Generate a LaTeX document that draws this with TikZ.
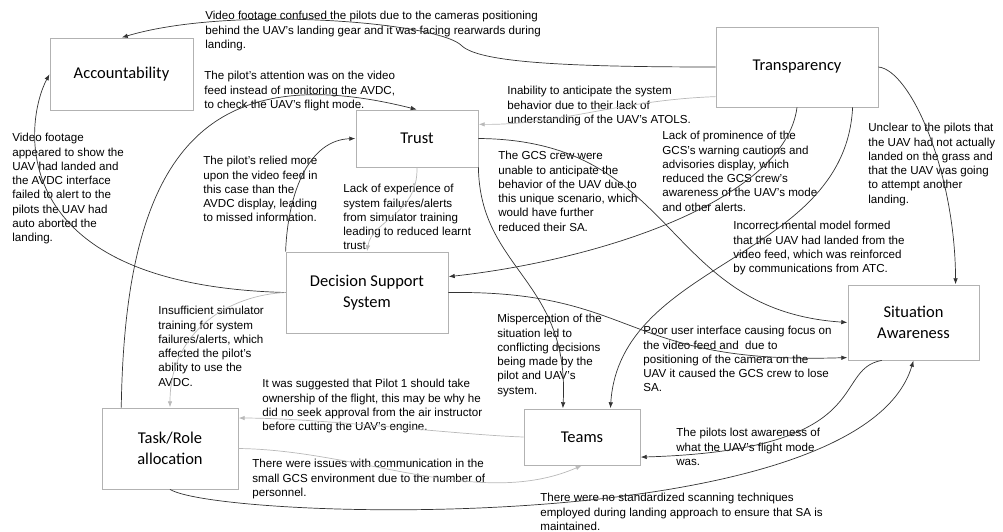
\documentclass[tikz,border=0pt]{standalone}
\usepackage{fontspec}
\setmainfont{Liberation Sans}
\newfontfamily\boxfont{Carlito}
\usetikzlibrary{arrows.meta,arrows}

\begin{document}
\begin{tikzpicture}[
            x = 1pt, y = -1pt, % pixel grid, y runs down
            > = {Latex[length=6pt,width=4.5pt]}, % arrow head style
            shorten > = 0.3pt, % don't poke into the box
            draw = black!80,
            line width = 0.7pt % line style
        ]

        \tikzstyle{factor}=[
            draw = gray!60,
            line width = 0.8pt,
            fill = white,
            inner sep = 0pt,
            align = center,
            font = \boxfont\fontsize{16.5}{20.5}\selectfont
        ]
        \tikzstyle{note}=[
            anchor = north west,
            align = left,
            inner sep = 0pt,
            font = \fontsize{11.6}{14.3}\selectfont
        ]
        \tikzstyle{weak}=[draw = gray!55]

        \useasboundingbox (0,0) rectangle (1003,532);

        % Factors
        \node[factor, minimum width=143pt, minimum height=72pt] (acc) [at={(121.5,74)}] {Accountability};
        \node[factor, minimum width=162pt, minimum height=80pt] (trans) [at={(797,67)}] {Transparency};
        \node[factor, minimum width=122pt, minimum height=57pt] (trust) [at={(417,138.5)}] {Trust};
        \node[factor, minimum width=162pt, minimum height=81pt] (dss) [at={(367,292.5)}] {Decision Support\\System};
        \node[factor, minimum width=131pt, minimum height=75pt] (sa) [at={(913.5,322.5)}] {Situation\\Awareness};
        \node[factor, minimum width=116pt, minimum height=56pt] (teams) [at={(582,437)}] {Teams};
        \node[factor, minimum width=136pt, minimum height=81pt] (task) [at={(170,448.5)}] {Task/Role\\allocation};

        % Notes
        \node[note] (t1) [at={(205,11)}] {Video footage confused the pilots due to the cameras positioning\\behind the UAV's landing gear and it was facing rearwards during\\landing.};
        \node[note] (t2) [at={(204,71)}] {The pilot's attention was on the video\\feed instead of monitoring the AVDC,\\to check the UAV's flight mode.};
        \node[note] (t3) [at={(12,133)}] {Video footage\\appeared to show the\\UAV had landed and\\the AVDC interface\\failed to alert to the\\pilots the UAV had\\auto aborted the\\landing.};
        \node[note] (t4) [at={(203,156)}] {The pilot's relied more\\upon the video feed in\\this case than the\\AVDC display, leading\\to missed information.};
        \node[note] (t5) [at={(507,86)}] {Inability to anticipate the system\\behavior due to their lack of\\understanding of the UAV's ATOLS.};
        \node[note] (t6) [at={(662,131)}] {Lack of prominence of the\\GCS's warning cautions and\\advisories display, which\\reduced the GCS crew's\\awareness of the UAV's mode\\and other alerts.};
        \node[note] (t7) [at={(498,151)}] {The GCS crew were\\unable to anticipate the\\behavior of the UAV due to\\this unique scenario, which\\would have further\\reduced their SA.};
        \node[note] (t8) [at={(343,184)}] {Lack of experience of\\system failures/alerts\\from simulator training\\leading to reduced learnt\\trust.};
        \node[note] (t9) [at={(868,123)}] {Unclear to the pilots that\\the UAV had not actually\\landed on the grass and\\that the UAV was going\\to attempt another\\landing.};
        \node[note] (t10) [at={(733,221)}] {Incorrect mental model formed\\that the UAV had landed from the\\video feed, which was reinforced\\by communications from ATC.};
        \node[note] (t11) [at={(158,306)}] {Insufficient simulator\\training for system\\failures/alerts, which\\affected the pilot's\\ability to use the\\AVDC.};
        \node[note] (t12) [at={(497,314)}] {Misperception of the\\situation led to\\conflicting decisions\\being made by the\\pilot and UAV's\\system.};
        \node[note] (t13) [at={(643,326)}] {Poor user interface causing focus on\\the video feed and \ due to\\positioning of the camera on the\\UAV it caused the GCS crew to lose\\SA.};
        \node[note] (t14) [at={(262,379)}] {It was suggested that Pilot 1 should take\\ownership of the flight, this may be why he\\did no seek approval from the air instructor\\before cutting the UAV's engine.};
        \node[note] (t15) [at={(252,459)}] {There were issues with communication in the\\small GCS environment due to the number of\\personnel.};
        \node[note] (t16) [at={(676,428)}] {The pilots lost awareness of\\what the UAV's flight mode\\was.};
        \node[note] (t17) [at={(540,493)}] {There were no standardized scanning techniques\\employed during landing approach to ensure that SA is\\maintained.};

        % Transparency
        \draw[->] (trans.west) .. controls (560,67) and (480,62) .. (462,46) .. controls (440,22) and (230,5) .. (acc.north);
        \draw[->, weak] (trans.200) .. controls (620,100) and (560,125) .. (trust.13);
        \draw[->] (trans.south) .. controls (785,200) and (600,260) .. (dss.11);
        \draw[->] (trans.-36) .. controls (845,260) and (620,260) .. (teams.45);
        \draw[->] (trans.east) .. controls (910,70) and (955,170) .. (sa.42);

        % Trust
        \draw[->] (trust.east) .. controls (680,140) and (660,310) .. (sa.west);
        \draw[->] (trust.south east) .. controls (480,270) and (570,280) .. (teams.124);
        \draw[->, weak] (trust.south) .. controls (418,215) and (372,220) .. (dss.north);

        % Decision support
        \draw[->] (dss.north west) .. controls (288,190) and (310,140) .. (trust.west);
        \draw[->] (dss.west) .. controls (0,285) and (25,120) .. (acc.west);
        \draw[->, weak] (dss.west) .. controls (230,295) and (170,330) .. (task.north);
        \draw[->] (dss.east) .. controls (640,290) and (620,365) .. (sa.208);

        % Task/Role
        \draw[->] (task.140) .. controls (125,160) and (200,55) .. (trust.north);
        \draw[->, weak] (task.east) .. controls (360,450) and (480,510) .. (teams.south);
        \draw[->] (task.south) .. controls (220,520) and (860,540) .. (sa.south);

        % Teams and SA
        \draw[->, weak] (teams.west) .. controls (460,435) and (320,418) .. (task.24);
        \draw[->] (sa.230) .. controls (830,370) and (880,450) .. (teams.-19);

\end{tikzpicture}
\end{document}
